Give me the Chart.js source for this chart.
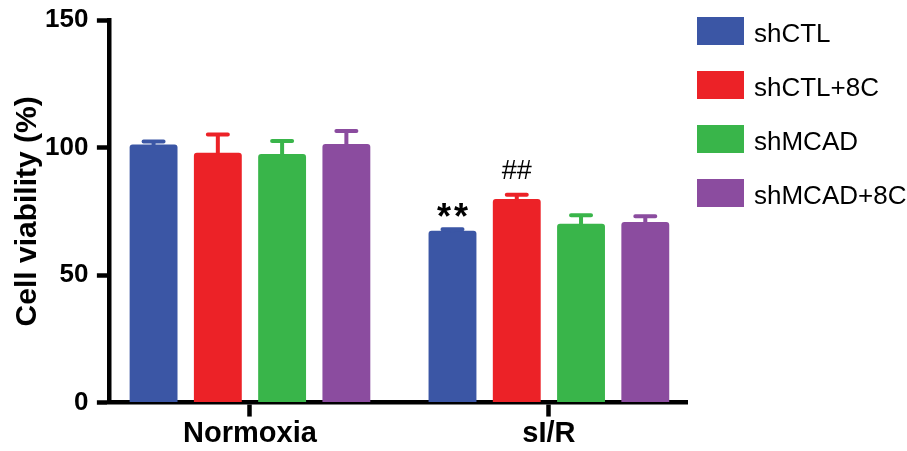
<!DOCTYPE html>
<html>
<head>
<meta charset="utf-8">
<style>
  html, body { margin: 0; padding: 0; background: #fff; }
</style>
</head>
<body>
<canvas id="myChart" width="907" height="451"></canvas>
<script src="https://cdn.jsdelivr.net/npm/chart.js@4.4.0/dist/chart.umd.min.js"></script>
<script>
// values (mean, upper SEM)
const categories = ['Normoxia', 'sI/R'];
const seriesNames = ['shCTL', 'shCTL+8C', 'shMCAD', 'shMCAD+8C'];
const shCTL = [101.2, 67.4];
const shCTL8C = [98.0, 79.9];
const shMCAD = [97.5, 70.1];
const shMCAD8C = [101.4, 70.8];
const shCTLErr = [1.2, 0.6];
const shCTL8CErr = [7.2, 1.6];
const shMCADErr = [5.1, 3.4];
const shMCAD8CErr = [5.1, 2.3];
const marks = [['', '**'], ['', '##'], ['', ''], ['', '']];
const yTicks = [0, 50, 100, 150];

const colors = ['#3b56a5', '#ec2227', '#39b54a', '#8b4c9f'];
const FONT = "'Liberation Sans', Arial, sans-serif";

const values = [shCTL, shCTL8C, shMCAD, shMCAD8C];
const errs = [shCTLErr, shCTL8CErr, shMCADErr, shMCAD8CErr];

// upper error bars + significance marks
const errorBars = {
  id: 'errorBars',
  afterDatasetsDraw(chart) {
    const ctx = chart.ctx;
    const y = chart.scales.y;
    chart.data.datasets.forEach((ds, i) => {
      chart.getDatasetMeta(i).data.forEach((bar, j) => {
        const top = y.getPixelForValue(values[i][j] + errs[i][j]);
        const base = y.getPixelForValue(values[i][j]);
        ctx.save();
        ctx.strokeStyle = colors[i];
        ctx.lineWidth = 4;
        ctx.lineCap = 'round';
        ctx.beginPath();
        ctx.moveTo(bar.x, base);
        ctx.lineTo(bar.x, top);
        ctx.moveTo(bar.x - 10, top);
        ctx.lineTo(bar.x + 10, top);
        ctx.stroke();
        const m = marks[i][j];
        if (m) {
          ctx.fillStyle = '#000';
          ctx.textAlign = 'center';
          ctx.textBaseline = 'alphabetic';
          if (m === '**') {
            ctx.font = 'bold 36px ' + FONT;
            ctx.letterSpacing = '3px';
            ctx.fillText(m, bar.x + 1.5, top);
          } else {
            ctx.font = '27px ' + FONT;
            ctx.fillText(m, bar.x, top - 16);
          }
        }
        ctx.restore();
      });
    });
  }
};

// legend drawn to the right of the plot, like the original figure
const sideLegend = {
  id: 'sideLegend',
  afterDraw(chart) {
    const ctx = chart.ctx;
    ctx.save();
    ctx.font = '26px ' + FONT;
    ctx.textBaseline = 'alphabetic';
    ctx.textAlign = 'left';
    chart.data.datasets.forEach((ds, i) => {
      const top = 17 + i * 54;
      ctx.fillStyle = ds.backgroundColor;
      ctx.fillRect(697, top, 47, 28);
      ctx.fillStyle = '#000';
      ctx.fillText(ds.label, 754, top + 25);
    });
    ctx.restore();
  }
};

const ctx = document.getElementById('myChart').getContext('2d');
const chart = new Chart(ctx, {
  type: 'bar',
  data: {
    datasets: seriesNames.map((name, i) => ({
      label: name,
      data: values[i].map((v, j) => ({ x: j, y: v })),
      backgroundColor: colors[i],
      borderWidth: 0,
      borderRadius: 3,
      categoryPercentage: 0.86,
      barPercentage: 0.745
    }))
  },
  options: {
    responsive: false,
    animation: false,
    layout: { padding: { top: 0, right: 220, bottom: 0, left: 0 } },
    plugins: {
      tooltip: { enabled: false },
      legend: { display: false }
    },
    scales: {
      x: {
        type: 'linear',
        offset: false,
        min: -0.472,
        max: 1.462,
        afterBuildTicks(scale) { scale.ticks = categories.map((c, i) => ({ value: i })); },
        grid: {
          offset: false,
          drawOnChartArea: false,
          drawTicks: true,
          tickLength: 14,
          tickWidth: 4.5,
          tickColor: '#000'
        },
        border: { color: '#000', width: 4.5 },
        ticks: {
          color: '#000',
          padding: 2,
          callback: v => categories[v],
          font: { family: FONT, size: 29, weight: 'bold', lineHeight: 1.05 }
        }
      },
      y: {
        min: 0,
        max: 150,
        afterBuildTicks(scale) { scale.ticks = yTicks.map(v => ({ value: v })); },
        grid: {
          drawOnChartArea: false,
          drawTicks: true,
          tickLength: 12,
          tickWidth: 4.5,
          tickColor: '#000'
        },
        border: { color: '#000', width: 4.5 },
        ticks: {
          color: '#000',
          padding: 8.5,
          font: { family: FONT, size: 26, weight: 'bold', lineHeight: 0.9 }
        },
        title: {
          display: true,
          text: 'Cell viability (%)',
          color: '#000',
          padding: { top: 9.5, bottom: -9 },
          font: { family: FONT, size: 30, weight: 'bold' }
        }
      }
    }
  },
  plugins: [errorBars, sideLegend]
});
</script>
</body>
</html>
